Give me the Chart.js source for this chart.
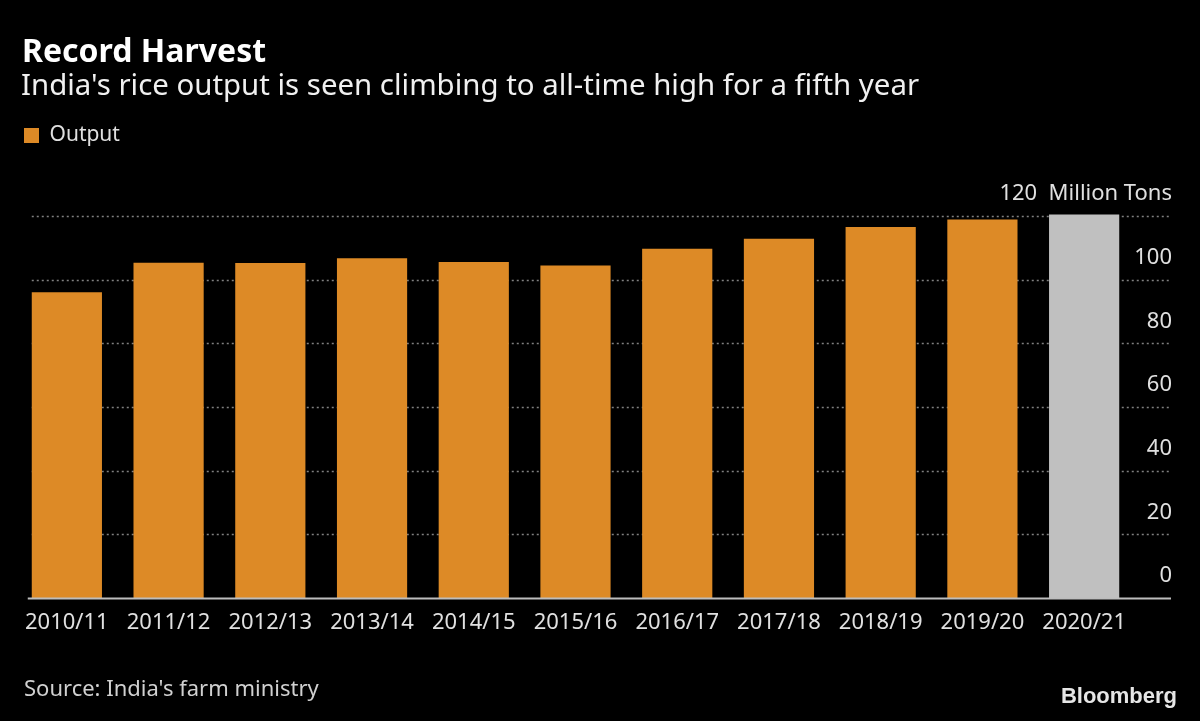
<!DOCTYPE html>
<html>
<head>
<meta charset="utf-8">
<script src="https://cdn.jsdelivr.net/npm/chart.js@4"></script>
<style>
  html, body { margin: 0; padding: 0; background: #000; }
  #wrap { width: 1200px; height: 721px; position: relative; }
</style>
</head>
<body>
<div id="wrap"><canvas id="chart"></canvas></div>
<script>
const seasons = ['2010/11', '2011/12', '2012/13', '2013/14', '2014/15', '2015/16',
  '2016/17', '2017/18', '2018/19', '2019/20', '2020/21'];
const output = [96.0, 105.3, 105.2, 106.7, 105.5, 104.4, 109.7, 112.8, 116.5, 118.9, 120.4];
const forecastIndex = 10;
const yTicks = [0, 20, 40, 60, 80, 100, 120];
const yUnit = 'Million Tons';

const ORANGE = '#dd8a26';
const GRAY = '#c0c0c0';
const FONT = '"Noto Sans", sans-serif';

const overlay = {
  id: 'overlay',
  beforeDatasetsDraw: chart => {
    const ctx = chart.ctx;
    const yAxis = chart.scales['y'];
    const first = chart.getDatasetMeta(0).data[0];
    const left = first.x - first.width / 2;
    ctx.save();
    ctx.strokeStyle = '#808080';
    ctx.lineWidth = 1.5;
    ctx.setLineDash([2, 3]);
    yTicks.forEach(v => {
      if (v === 0) return;
      const y = Math.round(yAxis.getPixelForValue(v)) + 0.5;
      ctx.beginPath();
      ctx.moveTo(left, y);
      ctx.lineTo(chart.width - 29, y);
      ctx.stroke();
    });
    ctx.restore();
  },
  afterDatasetsDraw: chart => {
    const ctx = chart.ctx;
    const yAxis = chart.scales['y'];
    const first = chart.getDatasetMeta(0).data[0];
    const left = first.x - first.width / 2;
    const y0 = Math.round(yAxis.getPixelForValue(0)) + 0.5;
    ctx.save();
    ctx.strokeStyle = '#bdbdbd';
    ctx.lineWidth = 2;
    ctx.beginPath();
    ctx.moveTo(left - 4, y0);
    ctx.lineTo(chart.width - 29, y0);
    ctx.stroke();

    // y tick labels sit above their grid lines, right aligned
    ctx.fillStyle = '#e0e0e0';
    ctx.font = '22px ' + FONT;
    ctx.textAlign = 'right';
    ctx.textBaseline = 'middle';
    yTicks.forEach(v => {
      const y = yAxis.getPixelForValue(v) - 22;
      const label = v === yTicks[yTicks.length - 1] ? v + '  ' + yUnit : String(v);
      ctx.fillText(label, chart.width - 28, y);
    });

    // header
    ctx.textAlign = 'left';
    ctx.textBaseline = 'alphabetic';
    ctx.fillStyle = '#ffffff';
    ctx.font = 'bold 32px ' + FONT;
    ctx.fillText('Record Harvest', 22, 62);
    ctx.fillStyle = '#f0f0f0';
    ctx.font = '29.4px ' + FONT;
    ctx.fillText("India's rice output is seen climbing to all-time high for a fifth year", 21, 95);

    // footer
    ctx.textBaseline = 'middle';
    ctx.fillStyle = '#d0d0d0';
    ctx.font = '22px ' + FONT;
    ctx.fillText("Source: India's farm ministry", 24, 690);
    ctx.textAlign = 'right';
    ctx.fillStyle = '#e6e6e6';
    ctx.font = 'bold 22px "Liberation Sans", Arial, sans-serif';
    ctx.fillText('Bloomberg', 1177, 697);
    ctx.restore();
  }
};

new Chart(document.getElementById('chart'), {
  type: 'bar',
  plugins: [overlay],
  data: {
    labels: seasons,
    datasets: [{
      label: 'Output',
      data: output,
      backgroundColor: ctx => ctx.dataIndex === forecastIndex ? GRAY : ORANGE,
      borderWidth: 0,
      categoryPercentage: 1,
      barPercentage: 0.69
    }]
  },
  options: {
    responsive: true,
    maintainAspectRatio: false,
    animation: false,
    layout: {
      padding: { left: 16, right: 28, bottom: 82.5, top: 117 }
    },
    plugins: {
      title: { display: false },
      legend: {
        align: 'start',
        labels: {
          color: '#e0e0e0',
          font: { family: FONT, size: 21 },
          boxWidth: 15,
          boxHeight: 15,
          padding: 8,
          generateLabels: () => [{
            text: 'Output',
            fillStyle: ORANGE,
            strokeStyle: ORANGE,
            fontColor: '#e0e0e0',
            lineWidth: 0,
            hidden: false,
            datasetIndex: 0
          }]
        }
      },
      tooltip: { enabled: false }
    },
    scales: {
      x: {
        grid: { display: false },
        border: { display: false },
        ticks: {
          color: '#e0e0e0',
          font: { family: FONT, size: 22 },
          padding: 3,
          maxRotation: 0,
          autoSkip: false
        }
      },
      y: {
        position: 'right',
        min: 0,
        max: 138.8,
        grid: { display: false },
        border: { display: false },
        ticks: { display: false },
        afterFit: scale => { scale.width = 37; }
      }
    }
  }
});
</script>
</body>
</html>
